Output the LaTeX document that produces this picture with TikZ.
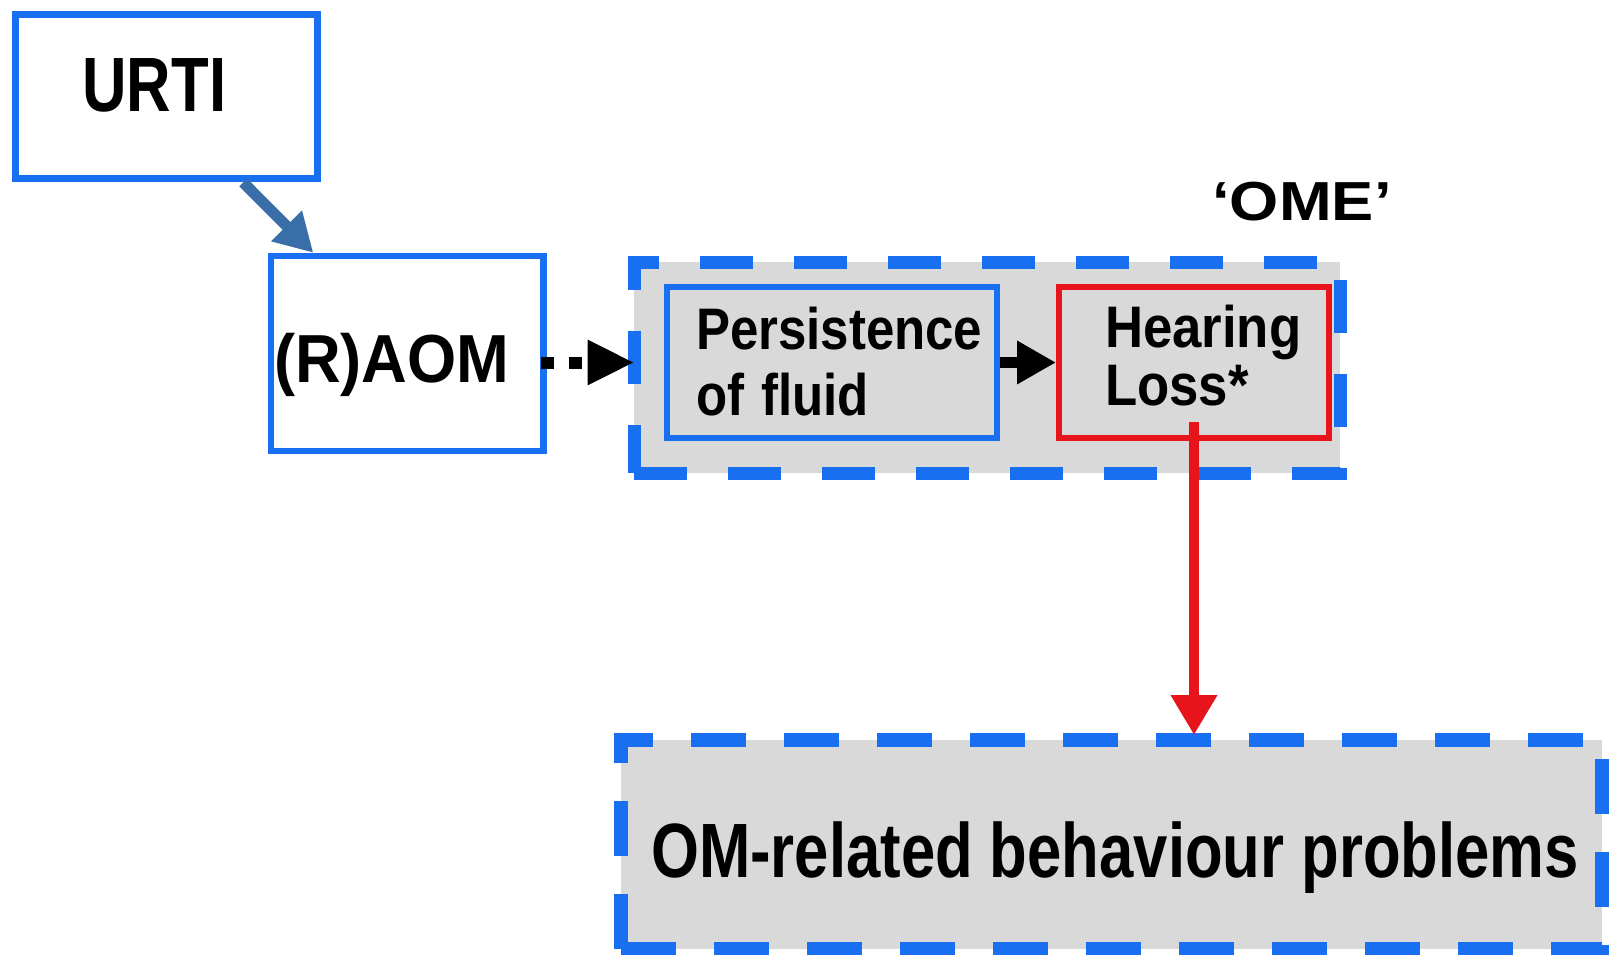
\documentclass[tikz,border=0pt]{standalone}
\usepackage{fontspec}
\setmainfont{Liberation Sans}
\usepackage{graphicx}
\usetikzlibrary{arrows.meta}

\definecolor{boxblue}{RGB}{24,112,240}
\definecolor{linkblue}{RGB}{58,110,168}
\definecolor{fillgray}{RGB}{217,217,217}
\definecolor{lossred}{RGB}{232,20,28}

% horizontally condensed text
\newcommand\hx[2]{\scalebox{#1}[1]{#2}}

\begin{document}
\begin{tikzpicture}[x=1pt,y=-1pt,
  box/.style={rectangle, inner ysep=0pt, align=left, text=black},
  solidbox/.style={box, draw=boxblue, line width=6.5pt},
  groupbox/.style={rectangle, inner sep=0pt, fill=fillgray, draw=boxblue, line width=13pt},
  linkarrow/.style={draw=linkblue, line width=11pt, -{Triangle[length=38pt,width=41pt]}},
  dotarrow/.style={draw=black, line width=12pt, dash pattern=on 13pt off 15pt, -{Triangle[length=47pt,width=42pt]}},
  steparrow/.style={draw=black, line width=11pt, -{Triangle[length=39pt,width=41pt]}},
  lossarrow/.style={draw=lossred, line width=10pt, -{Triangle[length=40pt,width=44pt]}}
]
\fill[white] (0,0) rectangle (1610,955);
\useasboundingbox (0,0) rectangle (1610,955);

% grouping boxes
\node[groupbox, dash pattern=on 53pt off 41pt, minimum width=706pt, minimum height=211pt] (ome) at (987,367.5) {};
\node[groupbox, dash pattern=on 55pt off 38pt, line width=14pt, minimum width=981pt, minimum height=209pt,
      text height=65pt, text depth=0pt, font=\fontsize{77pt}{80pt}\selectfont\bfseries] (omb) at (1111.5,844.5)
      {\hspace*{7pt}\hx{0.80}{OM-related behaviour problems}};

% single boxes
\node[solidbox, line width=7pt, minimum width=301.5pt, minimum height=164pt, inner xsep=67pt, text width=167.5pt,
      text height=30pt, text depth=0pt, font=\fontsize{77pt}{80pt}\selectfont\bfseries] (urti) at (166.25,97) {\hx{0.80}{URTI}};
\node[solidbox, minimum width=272.5pt, minimum height=195pt, inner xsep=3pt, text width=266.5pt,
      text height=57pt, text depth=0pt, font=\fontsize{68pt}{72pt}\selectfont\bfseries] (raom) at (407.25,353.5) {\hx{0.93}{(R)AOM}};
\node[solidbox, line width=6pt, fill=fillgray, minimum width=330pt, minimum height=151pt, inner xsep=29pt, text width=272pt,
      text height=0pt, text depth=27pt, font=\fontsize{58.6pt}{66pt}\selectfont\bfseries] (pf) at (832,362.5)
      {\hx{0.87}{Persistence}\\\hx{0.87}{of fluid}};
\node[box, draw=lossred, line width=6pt, fill=fillgray, minimum width=270pt, minimum height=151pt, inner xsep=46pt, text width=178pt,
      text height=0pt, text depth=31pt, font=\fontsize{58.6pt}{58pt}\selectfont\bfseries] (hl) at (1194,362.5)
      {\hx{0.90}{Hearing}\\\hx{0.90}{Loss*}};

% group title
\node[inner sep=0pt, anchor=base, font=\fontsize{55pt}{60pt}\selectfont\bfseries] (omel) at (1302,220) {\hx{1.15}{‘OME’}};

% connectors
\draw[linkarrow] (urti.-48.3) -- (raom.133);
\draw[dotarrow, shorten <=-6pt, shorten >=-7pt] (raom.east |- pf.west) -- (ome.west |- pf.west);
\draw[steparrow] (pf.east) -- (hl.west);
\draw[lossarrow, shorten <=-19pt, shorten >=-2pt] (hl.south) -- (omb.north -| hl.south);
\end{tikzpicture}
\end{document}
